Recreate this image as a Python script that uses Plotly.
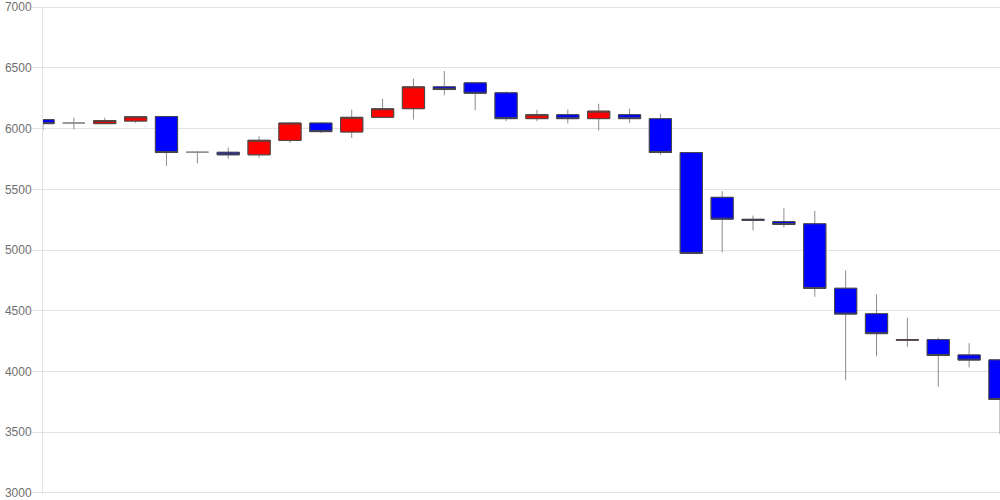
import plotly.graph_objects as go

days = list(range(32))
open_ = [6074, 6046, 6041, 6062, 6100, 5806, 5805, 5784, 5902, 6046, 5972, 6093,
         6164, 6344, 6377, 6295, 6082, 6115, 6082, 6115, 6082, 5803, 5434, 5253,
         5234, 5216, 4685, 4475, 4257, 4262, 4136, 4095]
high = [6074, 6090, 6090, 6100, 6101, 5816, 5844, 5937, 6054, 6054, 6156, 6246,
        6412, 6475, 6377, 6306, 6156, 6156, 6205, 6164, 6123, 5803, 5484, 5284,
        5344, 5322, 4833, 4634, 4443, 4278, 4232, 4095]
low = [5986, 5994, 6038, 6046, 5693, 5713, 5751, 5762, 5882, 5964, 5923, 6093,
       6074, 6275, 6152, 6062, 6062, 6043, 5984, 6046, 5784, 4972, 4980, 5161,
       5185, 4615, 3927, 4125, 4202, 3874, 4033, 3483]
close = [6041, 6046, 6066, 6098, 5803, 5806, 5784, 5904, 6046, 5975, 6093, 6164,
         6344, 6322, 6291, 6082, 6115, 6082, 6144, 6082, 5803, 4972, 5254, 5245,
         5210, 4683, 4472, 4311, 4262, 4131, 4093, 3769]
y_ticks = [3000, 3500, 4000, 4500, 5000, 5500, 6000, 6500, 7000]

# bodies only (no wicks): high/low = body extents; exact dojis left to the wick trace
b_open, b_close, b_high, b_low = [], [], [], []
for o, c in zip(open_, close):
    if o == c:
        b_open.append(None); b_close.append(None); b_high.append(None); b_low.append(None)
    else:
        b_open.append(o); b_close.append(c); b_high.append(max(o, c)); b_low.append(min(o, c))

wick_col = "#8c8c8c"
body_line = "#474747"
fig = go.Figure()
fig.add_trace(go.Candlestick(
    x=days, open=open_, high=high, low=low, close=close,
    increasing=dict(line=dict(color=wick_col, width=1), fillcolor="rgba(0,0,0,0)"),
    decreasing=dict(line=dict(color=wick_col, width=1), fillcolor="rgba(0,0,0,0)"),
    showlegend=False, hoverinfo="skip"))
fig.add_trace(go.Candlestick(
    x=days, open=b_open, high=b_high, low=b_low, close=b_close,
    increasing=dict(line=dict(color=body_line, width=1), fillcolor="#ff0000"),
    decreasing=dict(line=dict(color=body_line, width=1), fillcolor="#0000ff"),
    showlegend=False))

fig.update_layout(
    width=1000, height=500,
    margin=dict(l=43, r=0, t=5, b=5),
    paper_bgcolor="white", plot_bgcolor="white",
    boxgap=0.28, boxgroupgap=0,
    font=dict(family="Liberation Sans, Arial, sans-serif", size=12, color="#707070"),
    xaxis=dict(range=[0, 31], showticklabels=False, showgrid=False, zeroline=False,
               rangeslider=dict(visible=False), ticks=""),
    yaxis=dict(range=[2990, 7010], tickvals=y_ticks, ticktext=[str(v) for v in y_ticks],
               showgrid=True, gridcolor="#e2e2e2", gridwidth=1, zeroline=False,
               showline=True, linecolor="#e2e2e2", linewidth=1,
               ticks="outside", ticklen=10, tickcolor="#e2e2e2", tickwidth=1,
               ticklabeloverflow="allow", ticklabelstandoff=-2),
)
fig.write_html("out.html", config={"displayModeBar": False},
               post_script="document.body.style.margin='0';")
